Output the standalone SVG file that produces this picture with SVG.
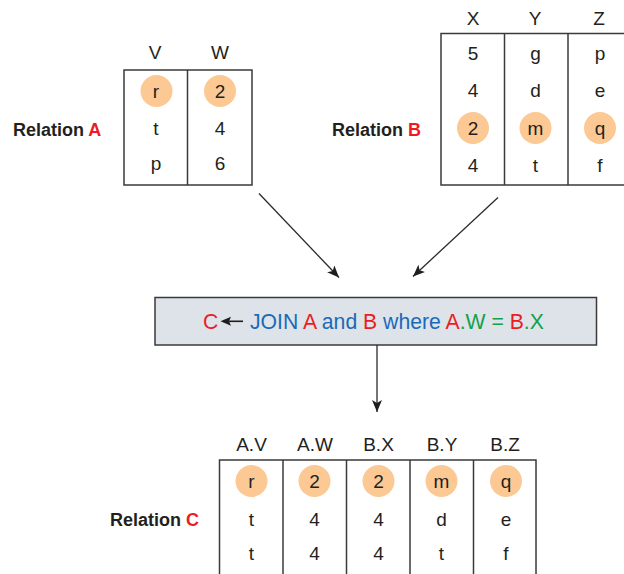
<svg xmlns="http://www.w3.org/2000/svg" width="624" height="574" viewBox="0 0 624 574">
<defs>
<style>
.t{font-family:"Liberation Sans Narrow","Liberation Sans",Arial,sans-serif;font-size:19px;fill:#231f20;text-anchor:middle}
.lbl{font-family:"Liberation Sans Narrow","Liberation Sans",Arial,sans-serif;font-size:18px;font-weight:bold;fill:#231f20}
.j{font-family:"Liberation Sans Narrow","Liberation Sans",Arial,sans-serif;font-size:21.2px}
.red{fill:#ed1c24}
.blue{fill:#1b6ab8}
.green{fill:#12a14b}
.tbl{fill:#fff;stroke:#3a3a3a;stroke-width:1.5}
.div{stroke:#3a3a3a;stroke-width:1.5}
.hl{fill:#fcc994}
.conn{stroke:#2b2b2b;stroke-width:1.3;fill:none;marker-end:url(#ah)}
</style>
<marker id="ah" viewBox="0 0 12 10" refX="12" refY="5" markerWidth="12" markerHeight="10" markerUnits="userSpaceOnUse" orient="auto">
<path d="M0,0 L12,5 L0,10 L3,5 z" fill="#1e1e1e"/>
</marker>
</defs>
<rect width="624" height="574" fill="#fff"/>

<g id="relationA">
<text class="lbl" x="13" y="135.5">Relation <tspan class="red">A</tspan></text>
<text class="t" x="155" y="59">V</text>
<text class="t" x="220" y="59">W</text>
<rect class="tbl" x="124" y="70" width="128" height="115"/>
<line class="div" x1="187.5" y1="70" x2="187.5" y2="185"/>
<circle class="hl" cx="156.5" cy="91" r="16"/>
<circle class="hl" cx="220" cy="91" r="16"/>
<text class="t" x="156" y="98">r</text>
<text class="t" x="220" y="98">2</text>
<text class="t" x="156" y="135">t</text>
<text class="t" x="220" y="135">4</text>
<text class="t" x="156" y="170">p</text>
<text class="t" x="220" y="170">6</text>
</g>

<g id="relationB">
<text class="lbl" x="332" y="135.5">Relation <tspan class="red">B</tspan></text>
<text class="t" x="473" y="25">X</text>
<text class="t" x="535" y="25">Y</text>
<text class="t" x="599" y="25">Z</text>
<rect class="tbl" x="441" y="33.5" width="200" height="151.5"/>
<line class="div" x1="504.5" y1="33.5" x2="504.5" y2="185"/>
<line class="div" x1="568" y1="33.5" x2="568" y2="185"/>
<circle class="hl" cx="473" cy="128" r="16"/>
<circle class="hl" cx="535.5" cy="128" r="16"/>
<circle class="hl" cx="600" cy="128" r="16"/>
<text class="t" x="473" y="60">5</text>
<text class="t" x="535.5" y="60">g</text>
<text class="t" x="600" y="60">p</text>
<text class="t" x="473" y="97">4</text>
<text class="t" x="535.5" y="97">d</text>
<text class="t" x="600" y="97">e</text>
<text class="t" x="473" y="135">2</text>
<text class="t" x="535.5" y="135">m</text>
<text class="t" x="600" y="135">q</text>
<text class="t" x="473" y="172">4</text>
<text class="t" x="535.5" y="172">t</text>
<text class="t" x="600" y="172">f</text>
</g>

<g id="join">
<rect x="155" y="297.5" width="441.5" height="47.5" fill="#dde3e9" stroke="#3a3a3a" stroke-width="1.5"/>
<text class="j red" x="203" y="329">C</text>
<line x1="229" y1="321.3" x2="243" y2="321.3" stroke="#1e1e1e" stroke-width="1.6"/>
<path d="M220.5,321.3 L231,316.8 L229,321.3 L231,325.8 z" fill="#1e1e1e"/>
<text class="j" x="250" y="329"><tspan class="blue">JOIN </tspan><tspan class="red">A</tspan><tspan class="blue"> and </tspan><tspan class="red">B</tspan><tspan class="blue"> where </tspan><tspan class="red">A</tspan><tspan class="green">.W = </tspan><tspan class="red">B</tspan><tspan class="green">.X</tspan></text>
</g>

<g id="relationC">
<text class="lbl" x="110" y="525.5">Relation <tspan class="red">C</tspan></text>
<text class="t" x="251.5" y="451">A.V</text>
<text class="t" x="315" y="451">A.W</text>
<text class="t" x="378.5" y="451">B.X</text>
<text class="t" x="442" y="451">B.Y</text>
<text class="t" x="505" y="451">B.Z</text>
<rect class="tbl" x="219.5" y="460" width="316.5" height="130"/>
<line class="div" x1="283" y1="460" x2="283" y2="590"/>
<line class="div" x1="346.5" y1="460" x2="346.5" y2="590"/>
<line class="div" x1="410" y1="460" x2="410" y2="590"/>
<line class="div" x1="473.5" y1="460" x2="473.5" y2="590"/>
<circle class="hl" cx="251.5" cy="481" r="16"/>
<circle class="hl" cx="314.5" cy="481" r="16"/>
<circle class="hl" cx="378.5" cy="481" r="16"/>
<circle class="hl" cx="441.5" cy="481" r="16"/>
<circle class="hl" cx="506" cy="481" r="16"/>
<text class="t" x="251.5" y="488">r</text>
<text class="t" x="314.5" y="488">2</text>
<text class="t" x="378.5" y="488">2</text>
<text class="t" x="441.5" y="488">m</text>
<text class="t" x="506" y="488">q</text>
<text class="t" x="251.5" y="526">t</text>
<text class="t" x="314.5" y="526">4</text>
<text class="t" x="378.5" y="526">4</text>
<text class="t" x="441.5" y="526">d</text>
<text class="t" x="506" y="526">e</text>
<text class="t" x="251.5" y="560">t</text>
<text class="t" x="314.5" y="560">4</text>
<text class="t" x="378.5" y="560">4</text>
<text class="t" x="441.5" y="560">t</text>
<text class="t" x="506" y="560">f</text>
</g>

<g id="connectors">
<line class="conn" x1="259" y1="193.5" x2="339" y2="277.5"/>
<line class="conn" x1="498" y1="197.5" x2="413" y2="276.5"/>
<line class="conn" x1="377" y1="345" x2="377" y2="412"/>
</g>
</svg>
